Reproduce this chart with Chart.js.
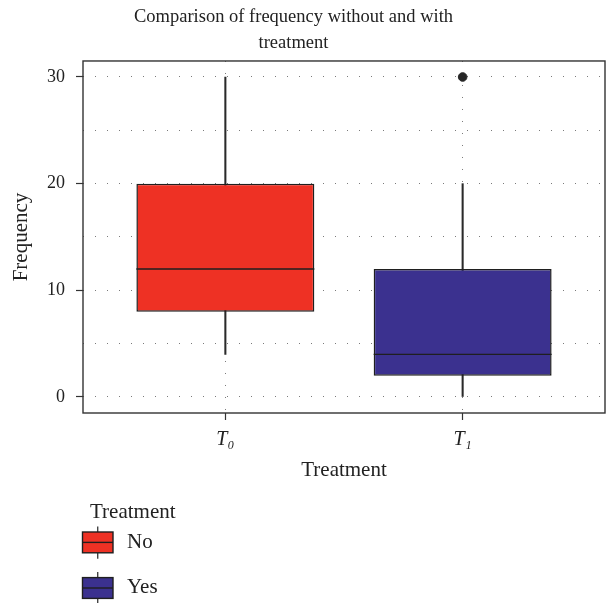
<!DOCTYPE html>
<html>
<head>
<meta charset="utf-8">
<script src="https://cdn.jsdelivr.net/npm/chart.js@4.4.0/dist/chart.umd.min.js"></script>
<style>
html,body{margin:0;padding:0;background:#ffffff;overflow:hidden;}
#wrap{position:relative;width:606px;height:603px;}
</style>
</head>
<body>
<div id="wrap"><canvas id="c"></canvas></div>
<script>
// ---- data ----
const titleLines = ['Comparison of frequency without and with', 'treatment'];
const xAxisTitle = 'Treatment';
const yAxisTitle = 'Frequency';
const legendTitle = 'Treatment';
const categories = ['T₀', 'T₁'];
const groupNames = ['No', 'Yes'];
const categoryPositions = [1, 2];
const whiskerLow = [4, 0];
const lowerQuartile = [8, 2];
const medianValue = [12, 4];
const upperQuartile = [20, 12];
const whiskerHigh = [30, 20];
const outlierPosition = [2];
const outlierValue = [30];
const yMajorTicks = [0, 10, 20, 30];
const yGridTicks = [0, 5, 10, 15, 20, 25, 30];
const boxColors = ['#EE3124', '#3B318F'];

const SERIF = '"Liberation Serif", "DejaVu Serif", serif';
const INK = '#222222';
const GRID = '#7a7a7a';
const FRAME = '#333333';

const boxPlotExtras = {
  id: 'boxPlotExtras',
  afterDatasetsDraw(chart) {
    const ctx = chart.ctx;
    const y = chart.scales.y;
    const meta = chart.getDatasetMeta(1);
    ctx.save();
    ctx.strokeStyle = '#1f1f1f';
    ctx.lineWidth = 1.4;
    meta.data.forEach((el, i) => {
      const py = y.getPixelForValue(medianValue[i]);
      ctx.beginPath();
      ctx.moveTo(el.x - el.width / 2, py);
      ctx.lineTo(el.x + el.width / 2, py);
      ctx.stroke();
    });
    const a = chart.chartArea;
    ctx.strokeStyle = FRAME;
    ctx.lineWidth = 1.4;
    ctx.strokeRect(a.left, a.top, a.right - a.left, a.bottom - a.top);
    ctx.restore();
  },
  afterDraw(chart) {
    const ctx = chart.ctx;
    ctx.save();
    ctx.fillStyle = INK;
    ctx.font = '21px ' + SERIF;
    ctx.textAlign = 'left';
    ctx.textBaseline = 'alphabetic';
    ctx.fillText(legendTitle, 90, 518);
    groupNames.forEach((name, i) => {
      const top = 532 + i * 45.6;
      const h = 20.8;
      const left = 82.5, w = 30.5;
      const cx = left + w / 2;
      ctx.strokeStyle = '#262626';
      ctx.lineWidth = 1.2;
      ctx.beginPath();
      ctx.moveTo(cx, top - 5.5); ctx.lineTo(cx, top);
      ctx.moveTo(cx, top + h); ctx.lineTo(cx, top + h + 6);
      ctx.stroke();
      ctx.fillStyle = boxColors[i];
      ctx.fillRect(left, top, w, h);
      ctx.lineWidth = 1.4;
      ctx.strokeStyle = '#1f1f1f';
      ctx.strokeRect(left, top, w, h);
      ctx.beginPath();
      ctx.moveTo(left, top + h / 2); ctx.lineTo(left + w, top + h / 2);
      ctx.stroke();
      ctx.fillStyle = INK;
      ctx.fillText(name, 127, top + 15.5);
    });
    ctx.restore();
  }
};

new Chart(document.getElementById('c'), {
  type: 'bar',
  data: {
    datasets: [
      {
        label: 'whiskers',
        data: categoryPositions.map((x, i) => ({ x: x, y: [whiskerLow[i], whiskerHigh[i]] })),
        backgroundColor: '#2a2a2a',
        borderWidth: 0,
        grouped: false,
        barThickness: 1.4,
        order: 3
      },
      {
        label: 'boxes',
        data: categoryPositions.map((x, i) => ({ x: x, y: [lowerQuartile[i], upperQuartile[i]] })),
        backgroundColor: boxColors,
        borderColor: '#1f1f1f',
        borderWidth: 1.5,
        borderSkipped: false,
        grouped: false,
        barPercentage: 0.75,
        categoryPercentage: 1,
        order: 2
      },
      {
        type: 'scatter',
        label: 'outliers',
        data: outlierPosition.map((x, i) => ({ x: x, y: outlierValue[i] })),
        backgroundColor: '#262626',
        borderColor: '#262626',
        pointRadius: 4.3,
        order: 1
      }
    ]
  },
  options: {
    responsive: true,
    maintainAspectRatio: false,
    animation: false,
    devicePixelRatio: 1,
    layout: { autoPadding: false, padding: { left: -18, right: 1, top: 0, bottom: 120 } },
    plugins: {
      legend: { display: false },
      tooltip: { enabled: false },
      title: {
        display: true,
        text: titleLines,
        color: INK,
        font: { family: SERIF, size: 18.5, weight: 'normal', lineHeight: 1.405 },
        padding: { top: 4.5, bottom: 4.5 }
      }
    },
    scales: {
      x: {
        type: 'linear',
        min: 0.4,
        max: 2.6,
        offset: false,
        afterBuildTicks: s => { s.ticks = categoryPositions.map(v => ({ value: v })); },
        afterFit: s => { s.height = 70; s.paddingLeft = 0; s.paddingRight = 0; },
        ticks: {
          callback: v => categories[categoryPositions.indexOf(v)],
          font: { family: SERIF, size: 20, style: 'italic' },
          color: INK,
          padding: 8,
          autoSkip: false,
          maxRotation: 0
        },
        grid: { color: GRID, lineWidth: 1, offset: false, tickLength: 7, tickColor: FRAME, tickWidth: 1.2 },
        border: { display: false, dash: [1, 11] },
        title: {
          display: true, text: xAxisTitle, color: INK,
          font: { family: SERIF, size: 21, lineHeight: 1.2 },
          padding: { top: 0, bottom: 0 }
        }
      },
      y: {
        min: -1.5,
        max: 31.5,
        afterBuildTicks: s => { s.ticks = yGridTicks.map(v => ({ value: v })); },
        afterFit: s => { s.width = 101; s.paddingTop = 0; s.paddingBottom = 0; },
        ticks: {
          callback: v => yMajorTicks.includes(v) ? String(v) : '',
          font: { family: SERIF, size: 18 },
          color: INK,
          padding: 11,
          autoSkip: false
        },
        grid: {
          color: GRID, lineWidth: 1, tickLength: 7, tickWidth: 1.2,
          tickColor: ctx => (ctx.tick && yMajorTicks.includes(ctx.tick.value)) ? FRAME : 'rgba(0,0,0,0)'
        },
        border: { display: false, dash: [1, 11] },
        title: {
          display: true, text: yAxisTitle, color: INK,
          font: { family: SERIF, size: 21, lineHeight: 1.2 },
          padding: { top: 26.8, bottom: 0 }
        }
      }
    }
  },
  plugins: [boxPlotExtras]
});
</script>
</body>
</html>
